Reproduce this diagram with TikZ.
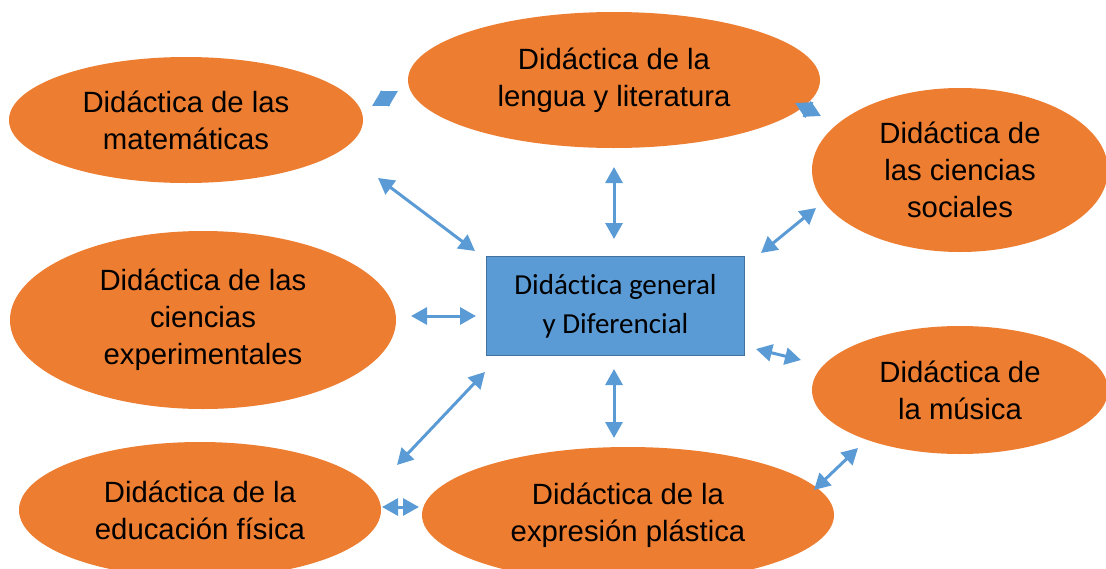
\documentclass[tikz,border=0pt]{standalone}
\usepackage{fontspec}
\setmainfont{Liberation Sans}
\newfontfamily\boxfont[Ligatures={NoCommon,NoRare,NoDiscretionary}]{Carlito}
\usetikzlibrary{arrows.meta,shapes.geometric}
\definecolor{orng}{HTML}{ED7D31}
\definecolor{blu}{HTML}{5B9BD5}
\definecolor{bluedge}{HTML}{41719C}
\tikzset{
  ell/.style={ellipse, fill=orng, draw=none, inner sep=0pt, align=center, font=\fontsize{29.3}{37}\selectfont},
  arr/.style={draw=blu, line width=3pt, {Triangle[length=16pt,width=17pt]}-{Triangle[length=16pt,width=17pt]}},
}
\begin{document}
\begin{tikzpicture}[x=1pt,y=-1pt]
\useasboundingbox (0,0) rectangle (1106,568);
\node[ell, minimum width=354, minimum height=126] (mat) at (186,120) {Didáctica de las\\matemáticas};
\node[ell, minimum width=412, minimum height=136] (len) at (614,80) {Didáctica de la\\lengua y literatura};
\node[ell, minimum width=296, minimum height=164] (soc) at (960,170) {Didáctica de\\las ciencias\\sociales};
\node[ell, minimum width=386, minimum height=178] (exp) at (203,320) {Didáctica de las\\ciencias\\experimentales};
\node[ell, minimum width=296, minimum height=128] (mus) at (960,390) {Didáctica de\\la música};
\node[ell, minimum width=362, minimum height=136] (fis) at (200,510) {Didáctica de la\\educación física};
\node[ell, minimum width=412, minimum height=136] (pla) at (628,515) {Didáctica de la\\expresión plástica};
\node[draw=bluedge, line width=1.5pt, fill=blu, minimum width=258, minimum height=99, inner sep=0pt, align=center, font=\boxfont\fontsize{29}{39}\selectfont] (box) at (615.5,306) {Didáctica general\\y Diferencial};
% connector end points
\coordinate (a1) at (372,106); \coordinate (a2) at (398,91);
\coordinate (b1) at (795,103); \coordinate (b2) at (821,116);
\coordinate (c1) at (378,178); \coordinate (c2) at (475,251);
\coordinate (d1) at (614,167); \coordinate (d2) at (614,239);
\coordinate (e1) at (761,253); \coordinate (e2) at (816,208);
\coordinate (f1) at (411,316); \coordinate (f2) at (476,316);
\coordinate (g1) at (756,349); \coordinate (g2) at (801,360);
\coordinate (h1) at (485,372); \coordinate (h2) at (397,465);
\coordinate (i1) at (614,369); \coordinate (i2) at (614,438);
\coordinate (j1) at (382,507); \coordinate (j2) at (419,507);
\coordinate (k1) at (814,490); \coordinate (k2) at (858,448);
\draw[arr] (a1) -- (a2);
\draw[arr] (b1) -- (b2);
\draw[arr] (c1) -- (c2);
\draw[arr] (d1) -- (d2);
\draw[arr] (e1) -- (e2);
\draw[arr] (f1) -- (f2);
\draw[arr] (g1) -- (g2);
\draw[arr] (h1) -- (h2);
\draw[arr] (i1) -- (i2);
\draw[arr] (j1) -- (j2);
\draw[arr] (k1) -- (k2);
\end{tikzpicture}
\end{document}
